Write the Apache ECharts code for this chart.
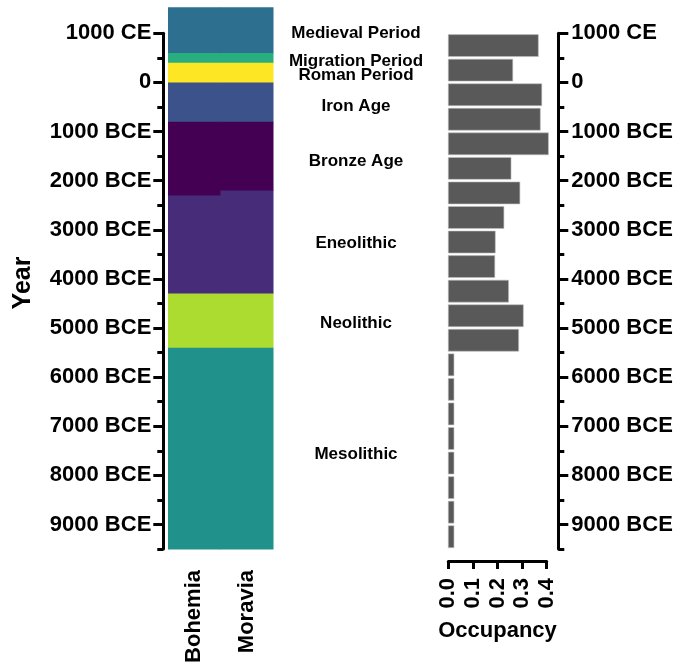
<!DOCTYPE html>
<html>
<head>
<meta charset="utf-8">
<script src="https://cdn.jsdelivr.net/npm/echarts@6/dist/echarts.min.js"></script>
<style>
  html, body { margin: 0; padding: 0; background: #ffffff; }
  #chart { width: 681px; height: 668px; }
</style>
</head>
<body>
<div id="chart"></div>
<script>
// Regions shown as the two columns of the period strip
const regions = ['Bohemia', 'Moravia'];

// Archaeological periods, top (youngest) to bottom (oldest)
const periodNames = ['Medieval Period', 'Migration Period', 'Roman Period', 'Iron Age',
  'Bronze Age', 'Eneolithic', 'Neolithic', 'Mesolithic'];
const periodColors = ['#2d6f8e', '#29af7f', '#fde725', '#3c528b',
  '#440154', '#472c7a', '#addc30', '#21918c'];

// Period spans per region: [from year, to year] (negative = BCE)
const bohemiaSpans = [[1530, 600], [600, 400], [400, 0], [0, -800],
  [-800, -2300], [-2300, -4300], [-4300, -5400], [-5400, -9500]];
const moraviaSpans = [[1530, 600], [600, 400], [400, 0], [0, -800],
  [-800, -2200], [-2200, -4300], [-4300, -5400], [-5400, -9500]];

// Year at which each period name is written
const periodLabelYears = [1000, 420, 140, -480, -1600, -3280, -4900, -7570];

// 500-year bins (upper edge) and their occupancy
const binTops = [1000, 500, 0, -500, -1000, -1500, -2000, -2500, -3000, -3500, -4000,
  -4500, -5000, -5500, -6000, -6500, -7000, -7500, -8000, -8500, -9000];
const binBottoms = [500, 0, -500, -1000, -1500, -2000, -2500, -3000, -3500, -4000, -4500,
  -5000, -5500, -6000, -6500, -7000, -7500, -8000, -8500, -9000, -9500];
const occupancy = [0.366, 0.262, 0.380, 0.374, 0.407, 0.255, 0.291, 0.226, 0.191, 0.189,
  0.245, 0.305, 0.286, 0.023, 0.023, 0.023, 0.023, 0.023, 0.023, 0.023, 0.023];

// Axis ticks
const yearLabelTicks = [1000, 0, -1000, -2000, -3000, -4000, -5000, -6000, -7000, -8000, -9000];
const occupancyTicks = [0, 0.1, 0.2, 0.3, 0.4];
const yearMin = -9500, yearMax = 1000, stripTop = 1530;

const FONT = '"Liberation Sans", Arial, sans-serif';

function yearLabel(v) {
  if (v > 0) return v + ' CE';
  if (v === 0) return '0';
  return (-v) + ' BCE';
}

const stripData = [];
bohemiaSpans.forEach((s, i) => stripData.push([0, s[0], s[1], i]));
moraviaSpans.forEach((s, i) => stripData.push([1, s[0], s[1], i]));

const barData = binTops.map((t, i) => [t, binBottoms[i], occupancy[i]]);
const labelData = periodNames.map((n, i) => [0.5, periodLabelYears[i], n]);

// Shared vertical scale: 1000 CE at y=33.3, 9500 BCE at y=549
const axisTop = 33.3, axisHeight = 515.7;
const pxPerYear = axisHeight / (yearMax - yearMin);
const stripTopPx = axisTop - (stripTop - yearMax) * pxPerYear;

const tickLine = { color: '#000', width: 3 };
const labelText = { color: '#000', fontFamily: FONT, fontWeight: 'bold', fontSize: 22 };

function minorYearAxis(grid, pos, offset) {
  return {
    type: 'value', gridIndex: grid, position: pos, offset: offset,
    min: yearMin, max: yearMax, interval: 500,
    axisLine: { show: true, onZero: false, lineStyle: tickLine },
    axisTick: { show: true, length: 6, lineStyle: tickLine },
    axisLabel: { show: false }, splitLine: { show: false }
  };
}
function majorYearAxis(grid, pos, offset, margin) {
  return {
    type: 'value', gridIndex: grid, position: pos, offset: offset,
    min: yearMin, max: yearMax, interval: 500,
    axisLine: { show: false, onZero: false },
    axisTick: { show: true, length: 10, lineStyle: tickLine, customValues: yearLabelTicks },
    axisLabel: Object.assign({ show: true, margin: margin, customValues: yearLabelTicks,
      formatter: yearLabel }, labelText),
    splitLine: { show: false }
  };
}

const option = {
  animation: false,
  backgroundColor: '#ffffff',
  grid: [
    { left: 168, width: 105, top: stripTopPx, height: 549 - stripTopPx },
    { left: 163.3, width: 100, top: axisTop, height: axisHeight },
    { left: 448.3, width: 98.4, top: axisTop, height: axisHeight },
    { left: 290, width: 132, top: axisTop, height: axisHeight }
  ],
  xAxis: [
    { type: 'category', gridIndex: 0, data: regions,
      axisLine: { show: false, onZero: false }, axisTick: { show: false },
      axisLabel: Object.assign({ rotate: 90, margin: 21 }, labelText) },
    { type: 'value', gridIndex: 1, show: false, min: 0, max: 1 },
    { type: 'value', gridIndex: 2, position: 'bottom', offset: 12,
      min: 0, max: 0.4, interval: 0.1,
      axisLine: { show: true, onZero: false, lineStyle: tickLine },
      axisTick: { show: true, length: 8, lineStyle: tickLine },
      axisLabel: Object.assign({ rotate: 90, margin: 17, formatter: v => v.toFixed(1),
        customValues: occupancyTicks }, labelText),
      splitLine: { show: false },
      name: 'Occupancy', nameLocation: 'middle', nameGap: 59,
      nameTextStyle: { color: '#000', fontFamily: FONT, fontWeight: 'bold', fontSize: 22 } },
    { type: 'value', gridIndex: 3, show: false, min: 0, max: 1 }
  ],
  yAxis: [
    { type: 'value', gridIndex: 0, show: false, min: yearMin, max: stripTop },
    minorYearAxis(1, 'left', 0),
    majorYearAxis(1, 'left', 0, 12),
    minorYearAxis(2, 'right', 11.6),
    majorYearAxis(2, 'right', 11.6, 13),
    { type: 'value', gridIndex: 3, show: false, min: yearMin, max: yearMax }
  ],
  graphic: [
    { type: 'text', x: 23, y: 283, rotation: Math.PI / 2,
      style: { text: 'Year', fill: '#000', font: 'bold 25px ' + FONT,
        align: 'center', verticalAlign: 'middle' } }
  ],
  series: [
    {
      type: 'custom', xAxisIndex: 0, yAxisIndex: 0, data: stripData,
      renderItem: function (params, api) {
        const col = api.value(0);
        const a = api.coord([col, api.value(1)]);
        const b = api.coord([col, api.value(2)]);
        const w = api.size([1, 0])[0];
        return { type: 'rect',
          shape: { x: a[0] - w / 2, y: a[1], width: w + 0.5, height: b[1] - a[1] + 0.5 },
          style: { fill: periodColors[api.value(3)] } };
      }
    },
    {
      type: 'custom', xAxisIndex: 2, yAxisIndex: 3, data: barData,
      renderItem: function (params, api) {
        const a = api.coord([0, api.value(0)]);
        const b = api.coord([api.value(2), api.value(1)]);
        return { type: 'rect',
          shape: { x: a[0], y: a[1] + 1.3, width: b[0] - a[0], height: b[1] - a[1] - 2.6 },
          style: { fill: '#595959', stroke: '#bdbdbd', lineWidth: 0.6 } };
      }
    },
    {
      type: 'scatter', xAxisIndex: 3, yAxisIndex: 5, data: labelData,
      symbolSize: 0, encode: { x: 0, y: 1 },
      itemStyle: { opacity: 1 },
      label: { show: true, position: 'inside', formatter: p => p.value[2],
        color: '#000', textBorderWidth: 0, fontFamily: FONT, fontWeight: 'bold', fontSize: 17 }
    }
  ]
};

echarts.init(document.getElementById('chart'), null, { renderer: 'canvas' }).setOption(option);
</script>
</body>
</html>
